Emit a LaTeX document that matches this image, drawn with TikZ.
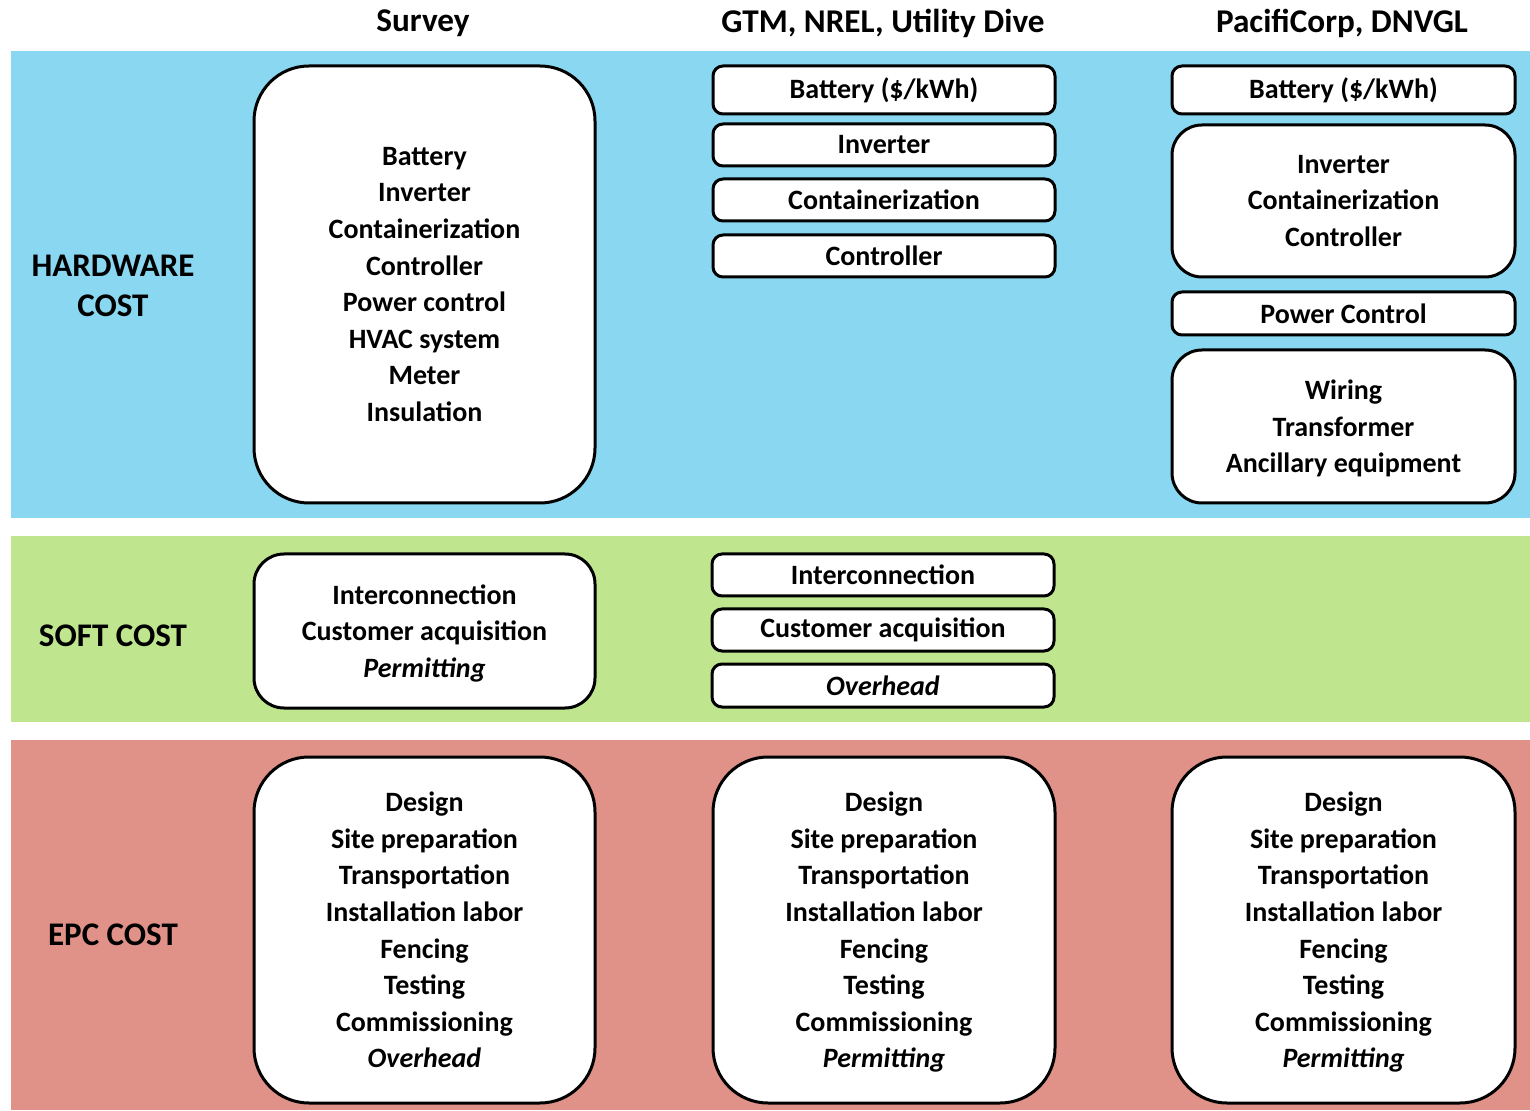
\documentclass[tikz,border=0pt]{standalone}
\usepackage{fontspec}
\setmainfont{Carlito}
\definecolor{hwblue}{RGB}{137,215,240}
\definecolor{softgreen}{RGB}{191,230,142}
\definecolor{epcred}{RGB}{224,146,136}
% last line without its descender depth, so the block stays centred on the caps
\newcommand{\nodepth}[1]{\raisebox{0pt}[\height][0pt]{#1}}
\begin{document}
\begin{tikzpicture}[x=0.5pt,y=-0.5pt,
  txt/.style={font=\fontsize{14}{18.3}\selectfont\bfseries, align=center, inner sep=0pt},
  cbox/.style={txt, draw, line width=1.5pt, fill=white, rounded corners=#1},
  cbox/.default=5pt,
  hdr/.style={font=\fontsize{16.6}{20}\selectfont\bfseries, inner sep=0pt},
  rowlabel/.style={txt, font=\fontsize{16.5}{20}\selectfont\bfseries}]
\useasboundingbox (0,0) rectangle (1530,1111);
% cost bands
\fill[hwblue] (11,51) rectangle (1530,518);
\fill[softgreen] (11,536) rectangle (1530,722);
\fill[epcred] (11,740) rectangle (1530,1110);
% column headers
\node[hdr] (hsurvey) at (423,23) {Survey};
\node[hdr] (hgtm) at (883,23) {GTM, NREL, Utility Dive};
\node[hdr] (hpac) at (1342,23) {PacifiCorp, DNVGL};
% row labels
\node[rowlabel] (lhw) at (113,286) {HARDWARE\\COST};
\node[rowlabel] (lsoft) at (113,636) {SOFT COST};
\node[rowlabel] (lepc) at (113,935) {EPC COST};
% hardware row
\node[cbox=27.5pt, minimum width=170.5pt, minimum height=218.5pt] (shw) at (424.5,284.5)
  {Battery\\Inverter\\Containerization\\Controller\\Power control\\HVAC system\\Meter\\Insulation};
\node[cbox, minimum width=171pt, minimum height=24pt] (gbat) at (884,90) {Battery (\$/kWh)};
\node[cbox, minimum width=171pt, minimum height=21pt] (ginv) at (884,145) {Inverter};
\node[cbox, minimum width=171pt, minimum height=21pt] (gcon) at (884,200) {Containerization};
\node[cbox, minimum width=171pt, minimum height=21pt] (gctl) at (884,256) {Controller};
\node[cbox, minimum width=171.5pt, minimum height=24pt] (pbat) at (1343.5,90) {Battery (\$/kWh)};
\node[cbox=15pt, minimum width=171.5pt, minimum height=76pt] (picc) at (1343.5,201)
  {Inverter\\Containerization\\Controller};
\node[cbox, minimum width=171.5pt, minimum height=21.5pt] (ppow) at (1343.5,313.5) {Power Control};
\node[cbox=15pt, minimum width=171.5pt, minimum height=76.5pt] (pwir) at (1343.5,426.5)
  {Wiring\\Transformer\\\nodepth{Ancillary equipment}};
% soft cost row
\node[cbox=15pt, minimum width=170.5pt, minimum height=77pt] (ssoft) at (424.5,631)
  {Interconnection\\Customer acquisition\\\nodepth{\textit{Permitting}}};
\node[cbox, minimum width=171pt, minimum height=21pt] (gint) at (883,575) {Interconnection};
\node[cbox, minimum width=171pt, minimum height=21pt] (gcus) at (883,630) {Customer acquisition};
\node[cbox, minimum width=171pt, minimum height=21.5pt] (gove) at (883,685.5) {\textit{Overhead}};
% EPC row
\node[cbox=27.5pt, minimum width=170.5pt, minimum height=173pt] (sepc) at (424.5,930)
  {Design\\Site preparation\\Transportation\\Installation labor\\Fencing\\Testing\\Commissioning\\\textit{Overhead}};
\node[cbox=27.5pt, minimum width=171pt, minimum height=173pt] (gepc) at (884,930)
  {Design\\Site preparation\\Transportation\\Installation labor\\Fencing\\Testing\\Commissioning\\\nodepth{\textit{Permitting}}};
\node[cbox=27.5pt, minimum width=171.5pt, minimum height=173pt] (pepc) at (1343.5,930)
  {Design\\Site preparation\\Transportation\\Installation labor\\Fencing\\Testing\\Commissioning\\\nodepth{\textit{Permitting}}};
\end{tikzpicture}
\end{document}
